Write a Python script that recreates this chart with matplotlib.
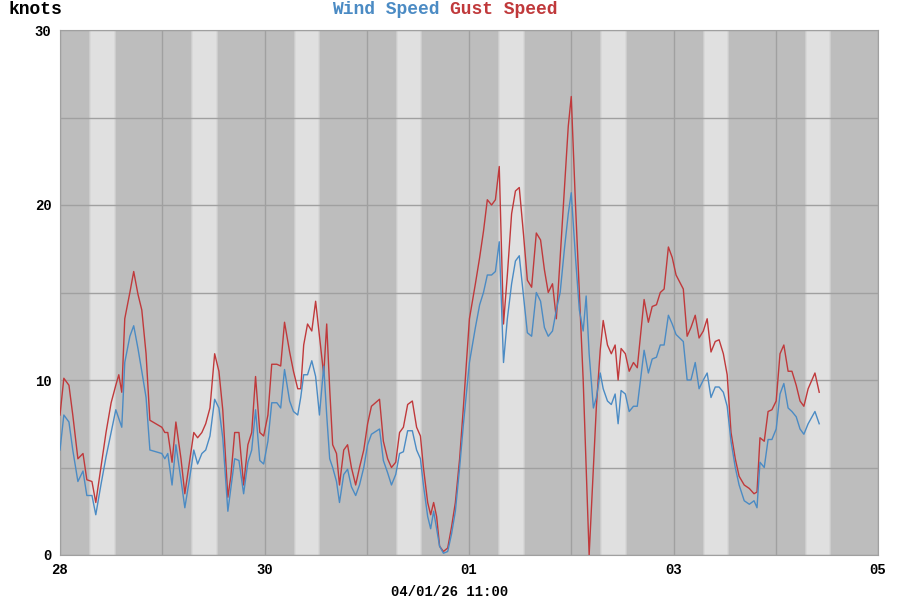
import numpy as np
import matplotlib
matplotlib.use("Agg")
from matplotlib import pyplot as plt

# hours since 28th 00:00
hours = [0, 0.9, 2.1, 3.0, 4.2, 5.4, 6.3, 7.5, 8.4, 9.6, 10.8, 12.0, 13.1, 13.8, 14.5, 15.2, 16.4, 17.3, 18.3, 19.2,
         20.2, 21.1, 22.5, 23.9, 24.6, 25.3, 26.3, 27.2, 28.4, 29.3, 30.5, 31.4, 32.3, 33.3, 34.2, 35.2, 36.3, 37.3,
         38.2, 39.4, 40.1, 41.0, 42.0, 43.1, 44.1, 45.0, 45.9, 46.9, 47.8, 48.8, 49.7, 50.9, 51.8, 52.7, 53.9, 54.8,
         55.8, 56.5, 57.2, 58.1, 59.1, 60.0, 60.9, 61.9, 62.6, 63.3, 64.0, 64.9, 65.6, 66.6, 67.5, 68.4, 69.4, 70.3,
         71.3, 72.2, 73.1, 75.0, 75.9, 76.9, 77.8, 78.8, 79.7, 80.6, 81.6, 82.7, 83.7, 84.6, 85.3, 86.3, 87.0, 87.7,
         88.4, 89.1, 90.0, 91.0, 91.9, 92.8, 93.8, 94.7, 96.1, 97.5, 98.5, 99.4, 100.3, 101.3, 102.2, 103.1, 104.1,
         105.0, 106.0, 106.9, 107.8, 108.8, 109.7, 110.7, 111.8, 112.8, 113.7, 114.6, 115.6, 116.5, 117.4, 118.4,
         119.3, 120.0, 121.0, 121.9, 122.8, 123.5, 124.2, 125.2, 125.9, 126.8, 127.5, 128.5, 129.4, 130.3, 131.0,
         131.7, 132.7, 133.6, 134.6, 135.5, 137.1, 138.1, 139.0, 140.0, 140.9, 141.8, 142.8, 143.7, 144.6, 146.3,
         147.2, 148.1, 149.1, 150.0, 151.0, 151.9, 152.8, 153.8, 154.7, 155.7, 156.6, 157.5, 158.5, 159.4, 160.6,
         161.8, 162.9, 163.6, 164.3, 165.3, 166.2, 167.1, 168.1, 169.0, 169.9, 170.9, 171.8, 172.8, 173.7, 174.6,
         175.6, 177.2, 178.2]

gust = [8.0, 10.1, 9.7, 8.0, 5.5, 5.8, 4.3, 4.2, 3.0, 5.0, 7.0, 8.7, 9.7, 10.3, 9.3, 13.5, 15.0, 16.2, 14.9, 14.0,
        11.5, 7.7, 7.5, 7.3, 7.0, 7.0, 5.3, 7.6, 5.5, 3.5, 5.5, 7.0, 6.7, 7.0, 7.5, 8.4, 11.5, 10.5, 8.3, 3.3, 4.5,
        7.0, 7.0, 4.0, 6.3, 7.0, 10.2, 7.0, 6.8, 8.0, 10.9, 10.9, 10.8, 13.3, 11.6, 10.5, 9.5, 9.5, 12.0, 13.2, 12.8,
        14.5, 12.5, 10.3, 13.2, 9.5, 6.3, 5.8, 4.0, 6.0, 6.3, 5.0, 4.0, 5.0, 6.0, 7.5, 8.5, 8.9, 6.5, 5.5, 5.0, 5.3,
        7.0, 7.3, 8.6, 8.8, 7.3, 6.8, 5.0, 3.0, 2.3, 3.0, 2.2, 0.5, 0.2, 0.4, 1.6, 3.0, 5.5, 8.5, 13.5, 15.5, 17.0,
        18.5, 20.3, 20.0, 20.3, 22.2, 13.2, 16.0, 19.5, 20.8, 21.0, 18.3, 15.7, 15.3, 18.4, 18.0, 16.3, 15.0, 15.5,
        13.5, 17.0, 21.0, 24.5, 26.2, 20.0, 15.0, 10.0, 5.0, 0.0, 5.0, 8.5, 11.7, 13.4, 12.0, 11.5, 12.0, 10.0, 11.8,
        11.5, 10.5, 11.0, 10.7, 14.6, 13.3, 14.2, 14.3, 15.0, 15.2, 17.6, 17.0, 16.0, 15.2, 12.5, 13.0, 13.7, 12.4,
        12.8, 13.5, 11.6, 12.2, 12.3, 11.5, 10.3, 7.0, 5.5, 4.5, 4.0, 3.8, 3.5, 3.6, 6.7, 6.5, 8.2, 8.3, 8.8, 11.5,
        12.0, 10.5, 10.5, 9.7, 8.8, 8.5, 9.5, 10.4, 9.3]

wind = [6.0, 8.0, 7.6, 6.0, 4.2, 4.8, 3.4, 3.4, 2.3, 4.0, 5.6, 7.0, 8.3, 7.8, 7.3, 11.0, 12.5, 13.1, 11.8, 10.5,
        9.0, 6.0, 5.9, 5.8, 5.5, 5.8, 4.0, 6.3, 4.3, 2.7, 4.5, 6.0, 5.2, 5.8, 6.0, 6.8, 8.9, 8.4, 6.7, 2.5, 3.8,
        5.5, 5.4, 3.5, 5.3, 6.0, 8.3, 5.4, 5.2, 6.5, 8.7, 8.7, 8.4, 10.6, 8.8, 8.2, 8.0, 9.0, 10.3, 10.3, 11.1,
        10.2, 8.0, 10.8, 8.0, 5.5, 5.0, 4.2, 3.0, 4.6, 4.9, 3.9, 3.4, 4.0, 5.0, 6.3, 6.9, 7.2, 5.4, 4.7, 4.0, 4.6,
        5.8, 5.9, 7.1, 7.1, 6.0, 5.5, 4.0, 2.2, 1.5, 2.5, 1.5, 0.5, 0.1, 0.2, 1.2, 2.5, 5.0, 7.5, 11.0, 13.0, 14.3,
        15.0, 16.0, 16.0, 16.2, 17.9, 11.0, 13.5, 15.5, 16.8, 17.1, 14.8, 12.7, 12.5, 15.0, 14.5, 13.0, 12.5, 12.8,
        14.0, 15.0, 17.5, 19.5, 20.7, 17.0, 14.0, 12.8, 14.8, 11.5, 8.4, 9.0, 10.4, 9.5, 8.8, 8.6, 9.2, 7.5, 9.4,
        9.2, 8.2, 8.5, 8.5, 11.7, 10.4, 11.2, 11.3, 12.0, 12.0, 13.7, 13.2, 12.6, 12.2, 10.0, 10.0, 11.0, 9.5,
        10.0, 10.4, 9.0, 9.6, 9.6, 9.3, 8.5, 6.5, 5.0, 4.0, 3.1, 2.9, 3.1, 2.7, 5.3, 5.0, 6.6, 6.6, 7.2, 9.2,
        9.8, 8.4, 8.2, 7.9, 7.2, 6.9, 7.5, 8.2, 7.5]

day_ticks = [0, 2, 4, 6, 8]
day_labels = ["28", "30", "01", "03", "05"]

BLUE = "#4b8bc4"
RED = "#c0393b"

fig = plt.figure(figsize=(9, 6), dpi=100)
ax = fig.add_axes([60 / 900, 45 / 600, 818 / 900, 525 / 600])
ax.set_facecolor("#bdbdbd")

# daylight bands with soft edges
for d in range(8):
    ax.axvspan(d + 0.285, d + 0.545, color="#cccccc", lw=0, zorder=0)
    ax.axvspan(d + 0.295, d + 0.535, color="#d8d8d8", lw=0, zorder=0)
    ax.axvspan(d + 0.305, d + 0.525, color="#e0e0e0", lw=0, zorder=0)

ax.set_xlim(0, 8)
ax.set_ylim(0, 30)
ax.set_xticks(range(9), minor=True)
ax.set_xticks(day_ticks)
ax.set_xticklabels(day_labels)
ax.set_yticks([0, 10, 20, 30])
ax.set_yticks([5, 15, 25], minor=True)
ax.grid(True, which="both", color="#a0a0a0", lw=1, zorder=1)
ax.tick_params(which="both", length=0, labelsize=10, pad=6)
for lab in ax.get_xticklabels() + ax.get_yticklabels():
    lab.set_family("Liberation Mono")
    lab.set_fontweight("bold")
for s in ax.spines.values():
    s.set_color("#a0a0a0")

t = np.array(hours) / 24.0
ax.plot(t, gust, color=RED, lw=1, zorder=3)
ax.plot(t, wind, color=BLUE, lw=1, zorder=3)

font = dict(family="Liberation Mono", fontweight="bold", fontsize=13)
fig.text(8 / 900, 1 - 10 / 600, "knots", ha="left", va="center", **font)
fig.text(0.5, 1 - 10 / 600, "Wind Speed ", color=BLUE, ha="right", va="center", **font)
fig.text(0.5, 1 - 10 / 600, "Gust Speed", color=RED, ha="left", va="center", **font)
fig.text(450 / 900, 1 - 592 / 600, "04/01/26 11:00", ha="center", va="center",
         family="Liberation Mono", fontweight="bold", fontsize=10)

fig.savefig("out.png", dpi=100, facecolor="white")
